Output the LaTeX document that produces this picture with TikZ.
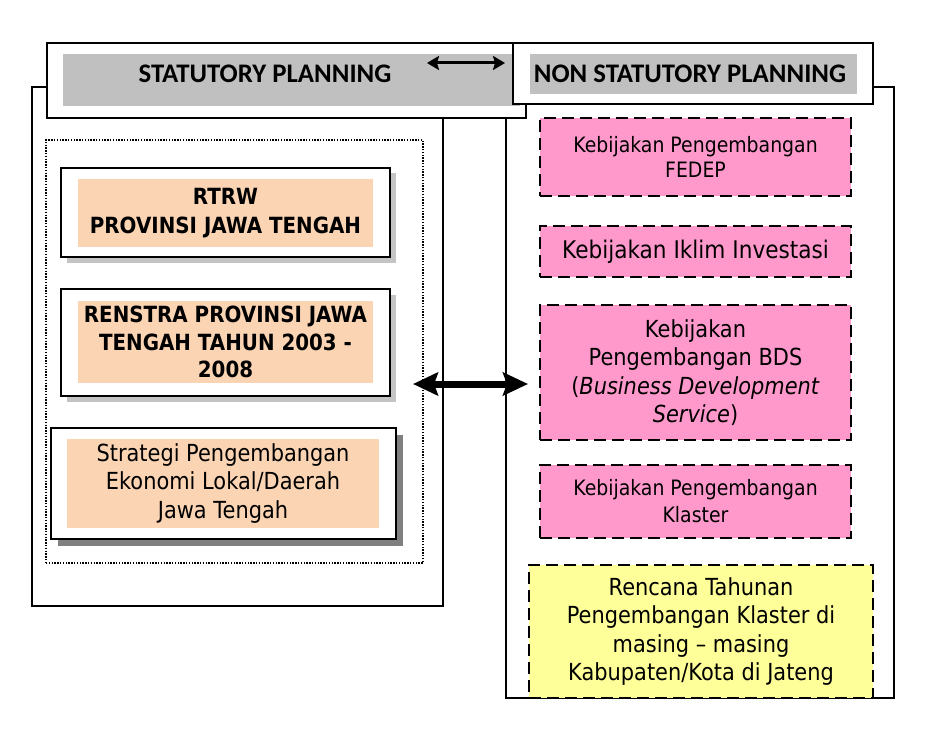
\documentclass[tikz,border=0pt]{standalone}
\usepackage{fontspec}
\usetikzlibrary{arrows.meta}
\newfontfamily\tahfont[FakeStretch=0.89,Ligatures=TeX]{DejaVu Sans}
\newfontfamily\carfont[Ligatures=TeX]{Carlito}
\definecolor{ttlgray}{HTML}{C0C0C0}
\definecolor{peach}{HTML}{FBD4B4}
\definecolor{pinkbox}{HTML}{FF99CC}
\definecolor{yelbox}{HTML}{FFFF99}
\definecolor{shadelight}{HTML}{C4C4C4}
\definecolor{shadedark}{HTML}{808080}
\tikzset{
  rect/.style={rectangle, inner sep=0pt, outer sep=0pt},
  outerbox/.style={rect, draw, line width=1.6pt, fill=white},
  titlebox/.style={rect, draw, line width=2pt, fill=white},
  graybar/.style={rect, fill=ttlgray},
  titletext/.style={font={\carfont\bfseries\fontsize{26.8}{30}\selectfont}},
  dotbox/.style={rect, draw, line width=1.4pt, dash pattern=on 1.4pt off 1.4pt},
  leftbox/.style={rect, draw, line width=2.3pt, fill=white},
  peachfill/.style={rect, fill=peach, align=center},
  shadelt/.style={rect, fill=shadelight},
  shadedk/.style={rect, fill=shadedark},
  pinkstyle/.style={rect, draw, line width=1.8pt, dash pattern=on 12pt off 6pt, fill=pinkbox, align=center},
  yelstyle/.style={rect, draw, line width=1.8pt, dash pattern=on 12pt off 6pt, fill=yelbox, align=center},
  boldtxt/.style={font={\tahfont\bfseries\fontsize{22.3}{29}\selectfont}},
  regtxt/.style={font={\tahfont\fontsize{23.5}{28.5}\selectfont}},
  smalltxt/.style={font={\tahfont\fontsize{21.2}{25.5}\selectfont}},
  bigarrow/.style={line width=7pt, {Stealth[length=25pt,width=23pt,inset=4pt]}-{Stealth[length=25pt,width=23pt,inset=4pt]}},
  thinarrow/.style={line width=3pt, {Stealth[length=12pt,width=14pt,inset=2pt]}-{Stealth[length=12pt,width=14pt,inset=2pt]}}
}
\begin{document}
\begin{tikzpicture}[x=1pt,y=-1pt]
% background / bounding box
\fill[white] (0,0) rectangle (929,730);
\useasboundingbox (0,0) rectangle (929,730);

% outer boxes
\node[outerbox, minimum width=411pt, minimum height=519pt] (leftouter) at (237.5,346.5) {};
\node[outerbox, minimum width=388pt, minimum height=611pt] (rightouter) at (700,392.5) {};

% statutory title
\node[titlebox, minimum width=479pt, minimum height=75pt] (stattitle) at (286.5,80.5) {};
\node[graybar, minimum width=457pt, minimum height=52pt] (statgray) at (291.5,80) {};
\node[titletext] (stattext) at (265,74) {STATUTORY PLANNING};

% non statutory title
\node[titlebox, minimum width=360pt, minimum height=61pt] (nstattitle) at (693,73.5) {};
\node[graybar, minimum width=327pt, minimum height=40pt] (nstatgray) at (693.5,74) {};
\node[titletext] (nstattext) at (690,74) {NON STATUTORY PLANNING};

% dotted group
\node[dotbox, minimum width=377pt, minimum height=423pt] (group) at (234.5,351.5) {};

% RTRW
\node[shadelt, minimum width=329pt, minimum height=89pt] (rtrwsh) at (231,218) {};
\node[leftbox, minimum width=329pt, minimum height=89pt] (rtrwbox) at (225.5,212.5) {};
\node[peachfill, boldtxt, minimum width=295pt, minimum height=68pt] (rtrw) at (225.5,213) {RTRW\\PROVINSI JAWA TENGAH};

% RENSTRA
\node[shadelt, minimum width=329pt, minimum height=107pt] (renssh) at (231,348) {};
\node[leftbox, minimum width=329pt, minimum height=107pt] (rensbox) at (225.5,342.5) {};
\node[peachfill, minimum width=295pt, minimum height=82pt, font={\tahfont\bfseries\fontsize{22.3}{27.5}\selectfont}] (renstra) at (225.5,342) {RENSTRA PROVINSI JAWA\\TENGAH TAHUN 2003 -\\2008};

% Strategi
\node[shadedk, minimum width=345pt, minimum height=111pt] (stratsh) at (230,490) {};
\node[leftbox, minimum width=345pt, minimum height=111pt] (stratbox) at (223.5,483.5) {};
\node[peachfill, regtxt, minimum width=312pt, minimum height=89pt] (strat) at (223,483.5) {Strategi Pengembangan\\Ekonomi Lokal/Daerah\\Jawa Tengah};

% right column
\node[pinkstyle, smalltxt, minimum width=311pt, minimum height=78pt] (fedep) at (695.5,157) {Kebijakan Pengembangan\\FEDEP};
\node[pinkstyle, minimum width=311pt, minimum height=51pt, font={\tahfont\fontsize{24.3}{28.5}\selectfont}] (iklim) at (695.5,251.5) {Kebijakan Iklim Investasi};
\node[pinkstyle, regtxt, minimum width=311pt, minimum height=135pt] (bds) at (695.5,372.5) {Kebijakan\\Pengembangan BDS\\(\textit{Business Development}\\\textit{Service})};
\node[pinkstyle, minimum width=311pt, minimum height=73pt, font={\tahfont\fontsize{21.2}{27}\selectfont}] (klaster) at (695.5,501.5) {Kebijakan Pengembangan\\Klaster};
\node[yelstyle, regtxt, minimum width=344pt, minimum height=133pt] (rencana) at (701,631.5) {Rencana Tahunan\\Pengembangan Klaster di\\masing – masing\\Kabupaten/Kota di Jateng};

% arrows
\coordinate (bal) at (413,384);
\coordinate (bar) at (528,384);
\draw[bigarrow] (bal) -- (bar);
\coordinate (sal) at (427,63);
\coordinate (sar) at (505,63);
\draw[thinarrow] (sal) -- (sar);
\end{tikzpicture}
\end{document}
